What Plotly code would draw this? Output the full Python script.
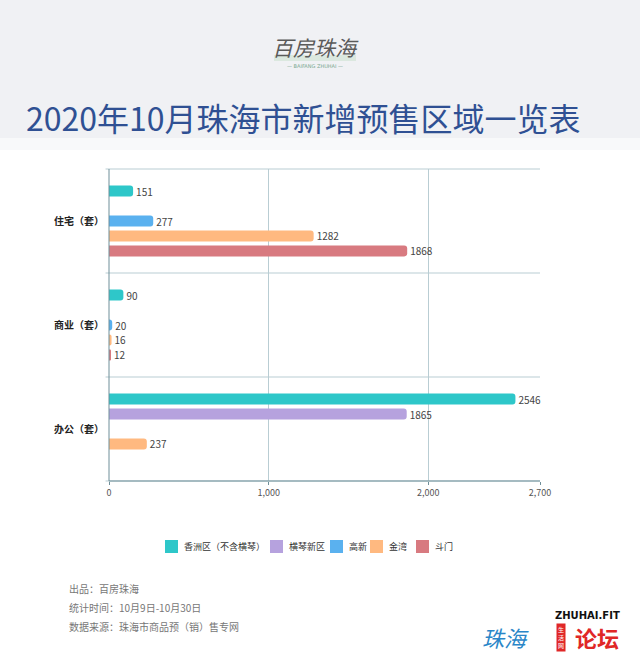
import plotly.graph_objects as go

categories = ["住宅（套）", "商业（套）", "办公（套）"]
series_names = ["香洲区（不含横琴）", "横琴新区", "高新", "金湾", "斗门"]
xiangzhou = [151, 90, 2546]
hengqin = [None, None, 1865]
gaoxin = [277, 20, None]
jinwan = [1282, 16, 237]
doumen = [1868, 12, None]
series_values = [xiangzhou, hengqin, gaoxin, jinwan, doumen]
colors = ["#2ec7c9", "#b6a2de", "#5ab1ef", "#ffb980", "#d87a80"]
tick_vals = [0, 1000, 2000, 2700]
tick_text = ["0", "1,000", "2,000", "2,700"]
footer_lines = ["出品：百房珠海", "统计时间：10月9日-10月30日", "数据来源：珠海市商品预（销）售专网"]

W, H = 640, 661
L, R, T, B = 109, 100, 169, 180
PW, PH = W - L - R, H - T - B
FONT = "Noto Sans CJK SC"


def px(x):
    return (x - L) / PW


def py(y):
    return (H - B - y) / PH


fig = go.Figure()
for name, vals, col in zip(series_names, series_values, colors):
    fig.add_trace(go.Bar(
        y=categories, x=vals, name=name, orientation="h",
        marker=dict(color=col, cornerradius=3, line=dict(width=0)),
        text=[("" if v is None else str(v)) for v in vals],
        textposition="outside", cliponaxis=False, constraintext="none",
        textfont=dict(size=10, color="#444", family=FONT),
        hoverinfo="x+name", showlegend=False,
    ))

shapes = [
    dict(type="rect", xref="paper", yref="paper", x0=px(-10), x1=px(W + 10),
         y0=py(138), y1=py(-10), fillcolor="#f0f1f4", line_width=0, layer="below"),
    dict(type="rect", xref="paper", yref="paper", x0=px(-10), x1=px(W + 10),
         y0=py(150), y1=py(138), fillcolor="#f8f9fa", line_width=0, layer="below"),
    dict(type="rect", xref="paper", yref="paper", x0=px(274), x1=px(356),
         y0=py(61), y1=py(55), fillcolor="#dbe8df", line_width=0, layer="below"),
]
for f in [0, 1/3, 2/3, 1]:
    shapes.append(dict(type="line", xref="x domain", yref="y domain", x0=-0.008, x1=1,
                       y0=f, y1=f, line=dict(color="#b9cdd3", width=1), layer="below"))
shapes.append(dict(type="line", xref="x domain", yref="y domain", x0=0, x1=0, y0=0, y1=1,
                   line=dict(color="#6f8f99", width=1)))
shapes.append(dict(type="line", xref="x domain", yref="y domain", x0=0, x1=1, y0=0, y1=0,
                   line=dict(color="#6f8f99", width=1)))

annotations = [
    dict(text="<i>百房珠海</i>", x=px(315), y=py(47), xref="paper", yref="paper", showarrow=False,
         font=dict(size=21, color="#5a5a5a", family=FONT), xanchor="center", yanchor="middle"),
    dict(text="— BAIFANG ZHUHAI —", x=px(315), y=py(66), xref="paper", yref="paper", showarrow=False,
         font=dict(size=5, color="#7aa890", family="DejaVu Sans"), xanchor="center", yanchor="middle"),
    dict(text="2020年10月珠海市新增预售区域一览表", x=px(303), y=py(117), xref="paper", yref="paper",
         showarrow=False, font=dict(size=32, color="#2f5093", family=FONT),
         xanchor="center", yanchor="middle"),
]
for i, line in enumerate(footer_lines):
    annotations.append(dict(text=line, x=px(67), y=py(588 + 19 * i), xref="paper", yref="paper",
                            showarrow=False, font=dict(size=10, color="#777", family=FONT),
                            xanchor="left", yanchor="middle"))

# custom legend
leg_x = [165, 270, 330, 370, 416]
for name, col, lx in zip(series_names, colors, leg_x):
    shapes.append(dict(type="rect", xref="paper", yref="paper", x0=px(lx), x1=px(lx + 13),
                       y0=py(553), y1=py(540), fillcolor=col, line_width=0))
    annotations.append(dict(text=name, x=px(lx + 17), y=py(546.5), xref="paper", yref="paper",
                            showarrow=False, font=dict(size=9, color="#333", family=FONT),
                            xanchor="left", yanchor="middle"))

annotations += [
    dict(text="<b>ZHUHAI.FIT</b>", x=px(587), y=py(615), xref="paper", yref="paper", showarrow=False,
         font=dict(size=10, color="#111", family="DejaVu Sans"), xanchor="center", yanchor="middle"),
    dict(text="<b>论坛</b>", x=px(597), y=py(637), xref="paper", yref="paper", showarrow=False,
         font=dict(size=22, color="#e02727", family=FONT), xanchor="center", yanchor="middle"),
    dict(text="<i>珠海</i>", x=px(505), y=py(637), xref="paper", yref="paper", showarrow=False,
         font=dict(size=22, color="#2a86c8", family=FONT), xanchor="center", yanchor="middle"),
    dict(text="生<br>活<br>网", x=px(561), y=py(637), xref="paper", yref="paper", showarrow=False,
         font=dict(size=6, color="white", family=FONT), bgcolor="#e02727",
         xanchor="center", yanchor="middle", borderpad=1),
]

fig.update_layout(
    width=W, height=H,
    margin=dict(l=L, r=R, t=T, b=B, pad=0),
    paper_bgcolor="white", plot_bgcolor="white",
    barmode="group", bargap=0.28, bargroupgap=0.27,
    font=dict(family=FONT, color="#333"),
    showlegend=False,
    shapes=shapes, annotations=annotations,
    xaxis=dict(range=[0, 2700], tickvals=tick_vals, ticktext=tick_text,
               showgrid=True, gridcolor="#b9cdd3", gridwidth=1, zeroline=False,
               showline=False, tickfont=dict(size=9, color="#555", family=FONT),
               ticks="outside", ticklen=3, tickcolor="#6f8f99"),
    yaxis=dict(autorange="reversed", showgrid=False, zeroline=False, showline=False,
               tickfont=dict(size=10, color="#222", family=FONT), ticks="", ticklabelstandoff=4,
               tickvals=categories, ticktext=["<b>" + c + "</b>" for c in categories]),
)

fig.write_html("out.html")
